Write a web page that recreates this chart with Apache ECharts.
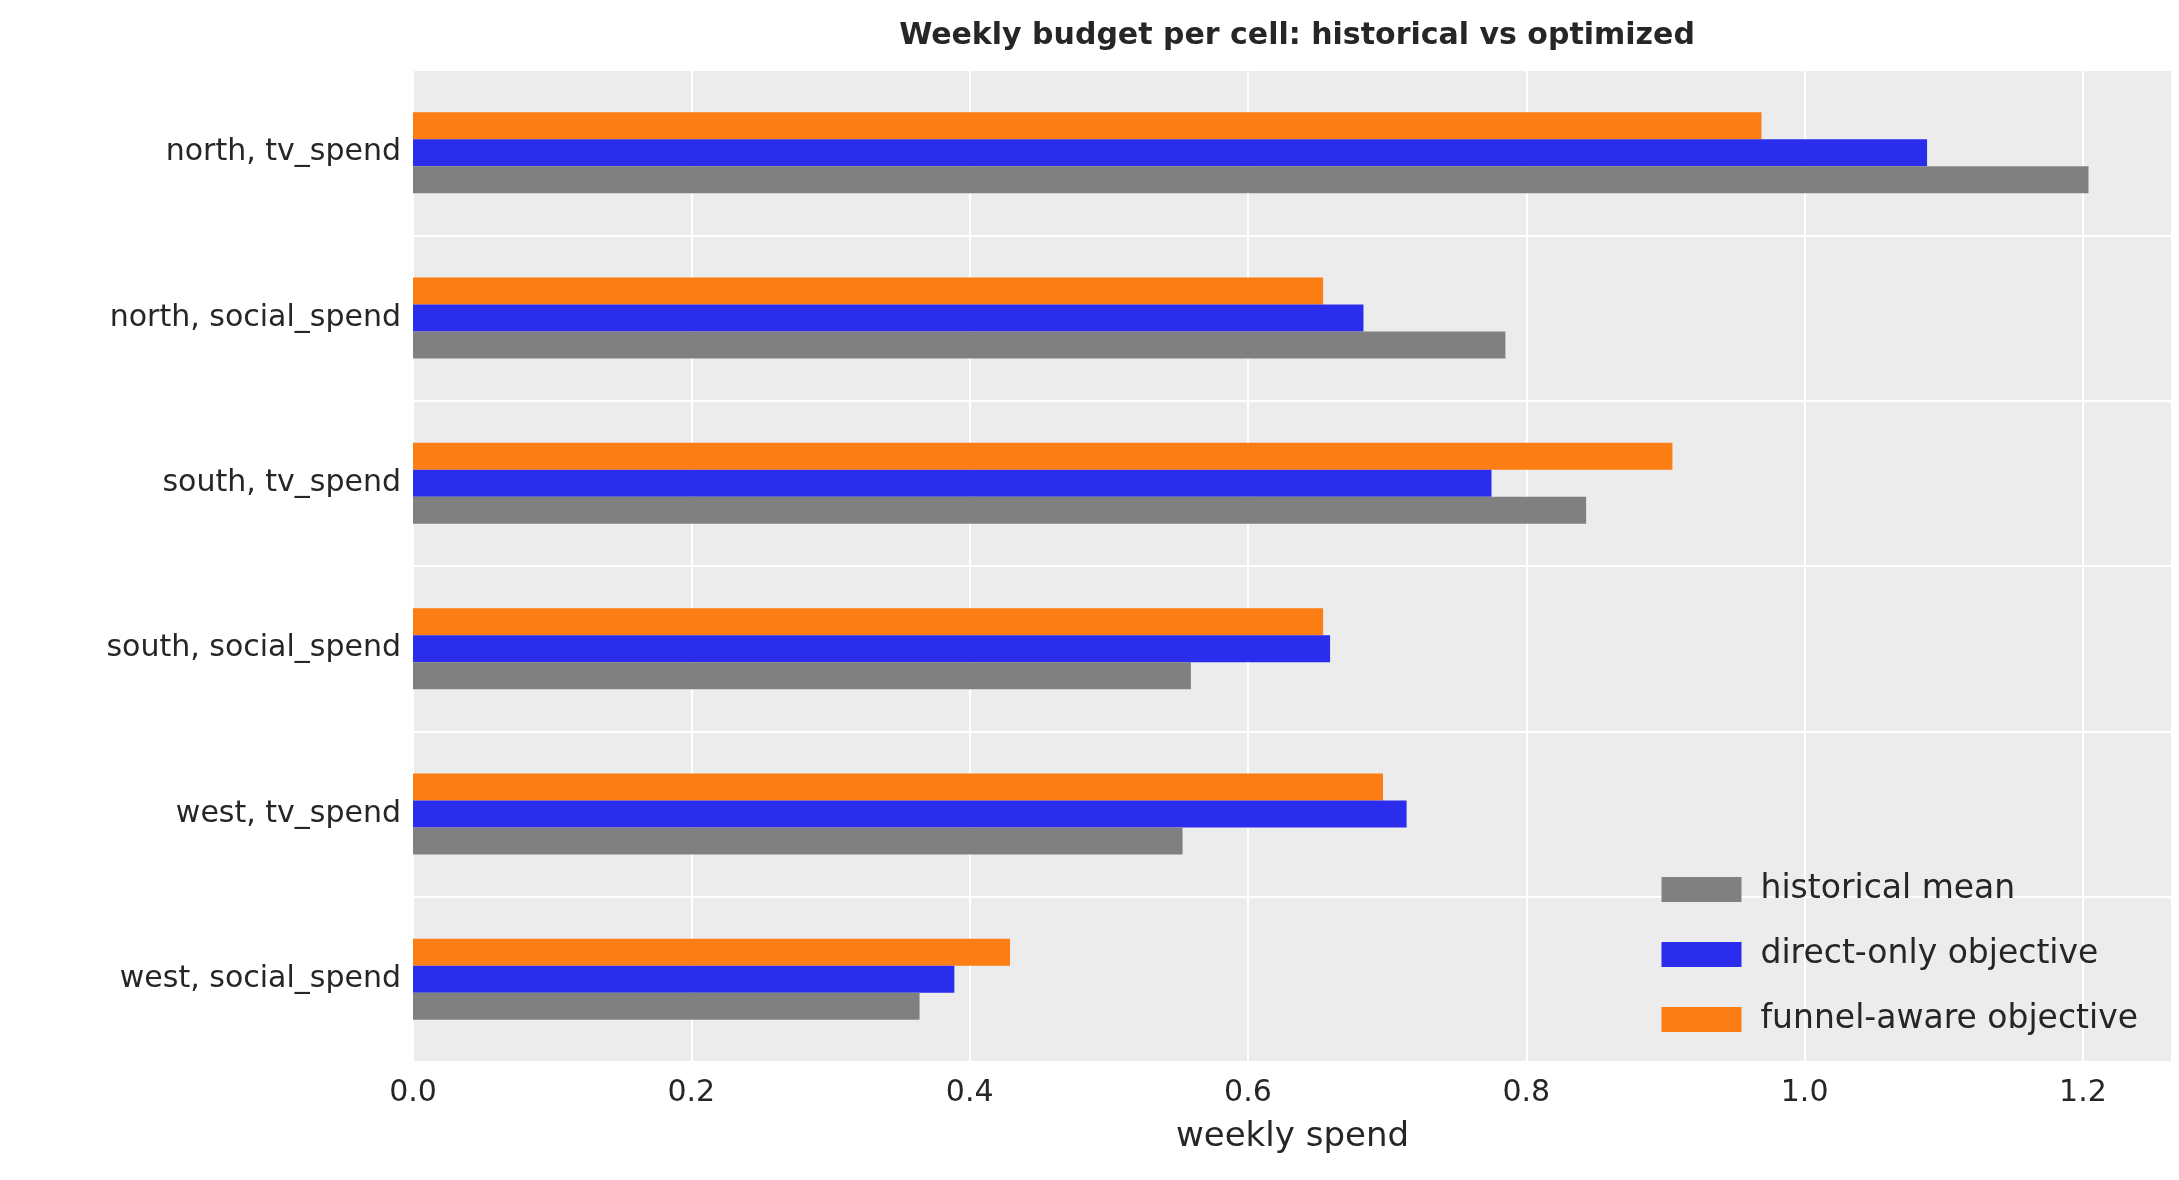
<!DOCTYPE html>
<html>
<head>
<meta charset="utf-8">
<script src="https://cdn.jsdelivr.net/npm/echarts@6/dist/echarts.min.js"></script>
<style>html,body{margin:0;padding:0;background:#fff}#c{width:2179px;height:1180px}</style>
</head>
<body>
<div id="c"></div>
<script>
const cells = ['north, tv_spend', 'north, social_spend', 'south, tv_spend', 'south, social_spend', 'west, tv_spend', 'west, social_spend'];
const historical = [1.204, 0.785, 0.843, 0.559, 0.553, 0.364];
const directOnly = [1.088, 0.683, 0.775, 0.659, 0.714, 0.389];
const funnelAware = [0.969, 0.654, 0.905, 0.654, 0.697, 0.429];
const xTicks = [0, 0.2, 0.4, 0.6, 0.8, 1.0, 1.2];

const font = 'DejaVu Sans';
var chart = echarts.init(document.getElementById('c'));
chart.setOption({
	animation: false,
	textStyle: { fontFamily: font },
	title: {
		text: 'Weekly budget per cell: historical vs optimized',
		left: 1292, top: 16, textAlign: 'center',
		textStyle: { fontSize: 30, fontWeight: 'bold', color: '#262626', fontFamily: font }
	},
	grid: { left: 413, right: 7, top: 70, bottom: 118, show: true, backgroundColor: '#ececec', borderWidth: 0 },
	legend: {
		orient: 'vertical', right: 36, top: 868,
		data: ['historical mean', 'direct-only objective', 'funnel-aware objective'],
		itemWidth: 80, itemHeight: 25, itemGap: 32, icon: 'rect',
		textStyle: { fontSize: 33, color: '#262626', padding: [0, 0, 0, 14] }
	},
	xAxis: {
		type: 'value', min: 0, max: 1.264, interval: 0.2,
		name: 'weekly spend', nameLocation: 'middle', nameGap: 58,
		nameTextStyle: { fontSize: 34, color: '#262626' },
		axisLine: { show: false }, axisTick: { show: false },
		axisLabel: {
			fontSize: 30, color: '#262626', margin: 16,
			formatter: v => xTicks.some(t => Math.abs(t - v) < 1e-6) ? v.toFixed(1) : ''
		},
		splitLine: { lineStyle: { color: '#ffffff', width: 2 } }
	},
	yAxis: {
		type: 'category', data: cells, inverse: true,
		axisLine: { show: false }, axisTick: { show: false },
		axisLabel: { fontSize: 30, color: '#262626', margin: 12 },
		splitLine: { show: true, interval: 0, lineStyle: { color: '#ffffff', width: 2 } }
	},
	series: [
		{ name: 'funnel-aware objective', type: 'bar', data: funnelAware, barWidth: 27, barGap: '0%', itemStyle: { color: '#fb7d13' } },
		{ name: 'direct-only objective', type: 'bar', data: directOnly, barWidth: 27, barGap: '0%', itemStyle: { color: '#2b2ded' } },
		{ name: 'historical mean', type: 'bar', data: historical, barWidth: 27, barGap: '0%', itemStyle: { color: '#808080' } }
	]
});
</script>
</body>
</html>
